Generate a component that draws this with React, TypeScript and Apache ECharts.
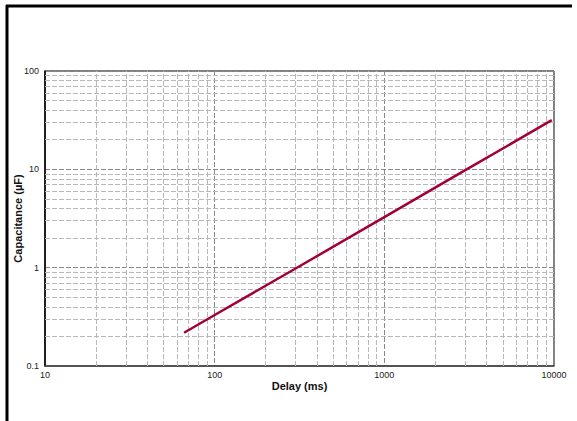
import React, { useEffect, useRef } from "react";
import * as echarts from "echarts";

const delayMs = [66, 100, 300, 1000, 3000, 9700];
const capacitanceUF = [0.218, 0.33, 0.98, 3.27, 9.8, 31.6];
const xMinorGrid = [20, 30, 40, 50, 60, 70, 80, 90, 200, 300, 400, 500, 600, 700, 800, 900, 2000, 3000, 4000, 5000, 6000, 7000, 8000, 9000];
const yMinorGrid = [0.2, 0.3, 0.4, 0.5, 0.6, 0.7, 0.8, 0.9, 2, 3, 4, 5, 6, 7, 8, 9, 20, 30, 40, 50, 60, 70, 80, 90];

export default function App() {
  const ref = useRef<HTMLDivElement>(null);
  useEffect(() => {
    if (!ref.current) return;
    const chart = echarts.init(ref.current, undefined, { renderer: "svg" });
    const font = "Liberation Sans, Arial, Helvetica, sans-serif";
    const minorStyle = { type: [5, 2] as any, color: "#b8b8b8", width: 1 };
    chart.setOption({
      animation: false,
      backgroundColor: "#fff",
      grid: {
        left: 45, right: 23, top: 71, bottom: 55,
        show: true, borderColor: "#000", borderWidth: 1,
        containLabel: false, outerBoundsMode: "none",
      },
      xAxis: {
        type: "log",
        logBase: 10,
        min: 10,
        max: 10000,
        name: "Delay (ms)",
        nameLocation: "middle",
        nameGap: 14,
        nameMoveOverlap: false,
        nameTextStyle: { fontFamily: font, fontWeight: "bold", fontSize: 11, color: "#111", verticalAlign: "top" },
        axisLine: { lineStyle: { color: "#444", width: 1.5 } },
        axisTick: { show: false },
        axisLabel: { fontFamily: font, fontSize: 9, color: "#222", margin: 4, formatter: (v: number) => String(v) },
        splitLine: { show: true, lineStyle: { type: [5, 2], color: "#888", width: 1 } },
      },
      yAxis: {
        type: "log",
        logBase: 10,
        min: 0.1,
        max: 100,
        name: "Capacitance (µF)",
        nameLocation: "middle",
        nameGap: 22,
        nameMoveOverlap: false,
        nameTextStyle: { fontFamily: font, fontWeight: "bold", fontSize: 11, color: "#111" },
        axisLine: { lineStyle: { color: "#000", width: 1.5 } },
        axisTick: { show: false },
        axisLabel: { fontFamily: font, fontSize: 9, color: "#222", margin: 6, formatter: (v: number) => String(v) },
        splitLine: { show: true, lineStyle: { type: [5, 2], color: "#888", width: 1 } },
      },
      series: [
        {
          type: "line",
          data: delayMs.map((d, i) => [d, capacitanceUF[i]]),
          showSymbol: false,
          symbol: "none",
          lineStyle: { color: "#a3003a", width: 2.5 },
          z: 5,
          markLine: {
            silent: true,
            symbol: "none",
            label: { show: false },
            lineStyle: minorStyle,
            z: 1,
            data: [
              ...xMinorGrid.map((v) => ({ xAxis: v })),
              ...yMinorGrid.map((v) => ({ yAxis: v })),
            ],
          },
        },
      ],
      graphic: [
        { type: "line", shape: { x1: 6, y1: 6, x2: 572, y2: 6 }, style: { stroke: "#000", lineWidth: 3 } },
        { type: "line", shape: { x1: 7, y1: 5, x2: 7, y2: 421 }, style: { stroke: "#000", lineWidth: 3 } },
      ],
    });
    return () => chart.dispose();
  }, []);
  return <div ref={ref} style={{ width: 577, height: 421, position: "fixed", left: 0, top: 0 }} />;
}
